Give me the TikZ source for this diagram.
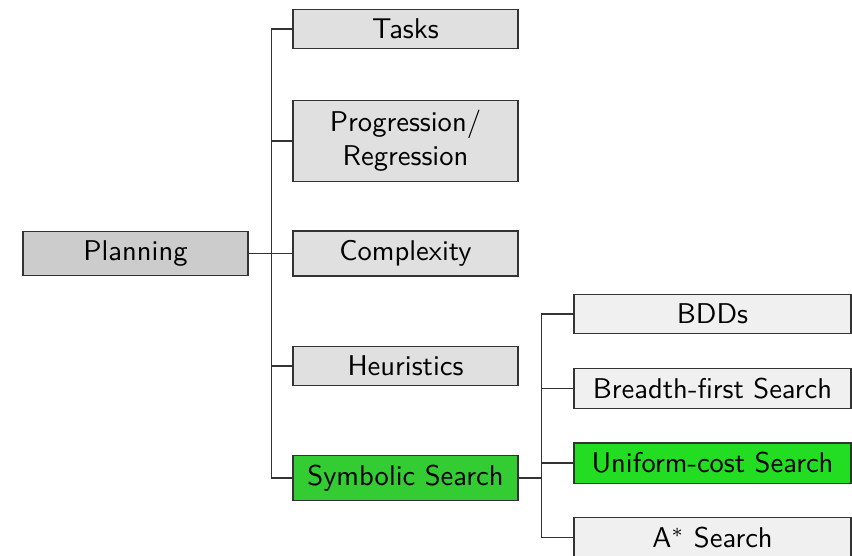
\documentclass[tikz,border=0pt]{standalone}
\usepackage{tikz}
\usetikzlibrary{positioning}
\usepackage{xcolor}
\definecolor{rootgray}{RGB}{204,204,204}
\definecolor{topicgray}{RGB}{224,224,224}
\definecolor{subgray}{RGB}{240,240,240}
\definecolor{symgreen}{RGB}{51,204,51}
\definecolor{ucsgreen}{RGB}{34,221,34}

\begin{document}
\begin{tikzpicture}[x=0.35pt, y=-0.35pt, every node/.style={font=\sffamily},
  topic/.style={draw=black!80, fill=topicgray, minimum width=78.75pt, align=center},
  subtopic/.style={draw=black!80, fill=subgray, minimum width=96.95pt},
  link/.style={draw=black!80}]
\useasboundingbox (0,0) rectangle (852,555);
\node[topic, fill=rootgray] (planning) at (135.5,253.5) {Planning};
\node[topic, right=15.35pt of planning] (complexity) {Complexity};
\node[topic] (tasks) at (405.5,29) {Tasks};
\node[topic] (progression) at (405.5,141) {Progression/\\Regression};
\node[topic] (heuristics) at (405.5,366) {Heuristics};
\node[topic, fill=symgreen] (symbolic) at (405.5,478) {Symbolic Search};
\node[subtopic] (bdds) at (712.5,314) {BDDs};
\node[subtopic] (bfs) at (712.5,388.5) {Breadth-first Search};
\node[subtopic, fill=ucsgreen] (ucs) at (712.5,463) {Uniform-cost Search};
\node[subtopic] (astar) at (712.5,537.5) {A$^*$ Search};
\foreach \n in {tasks,progression,complexity,heuristics,symbolic}
  \draw[link] (planning.east) -- ++(23,0) |- (\n.west);
\foreach \n in {bdds,bfs,ucs,astar}
  \draw[link] (symbolic.east) -- ++(23,0) |- (\n.west);
\end{tikzpicture}
\end{document}
